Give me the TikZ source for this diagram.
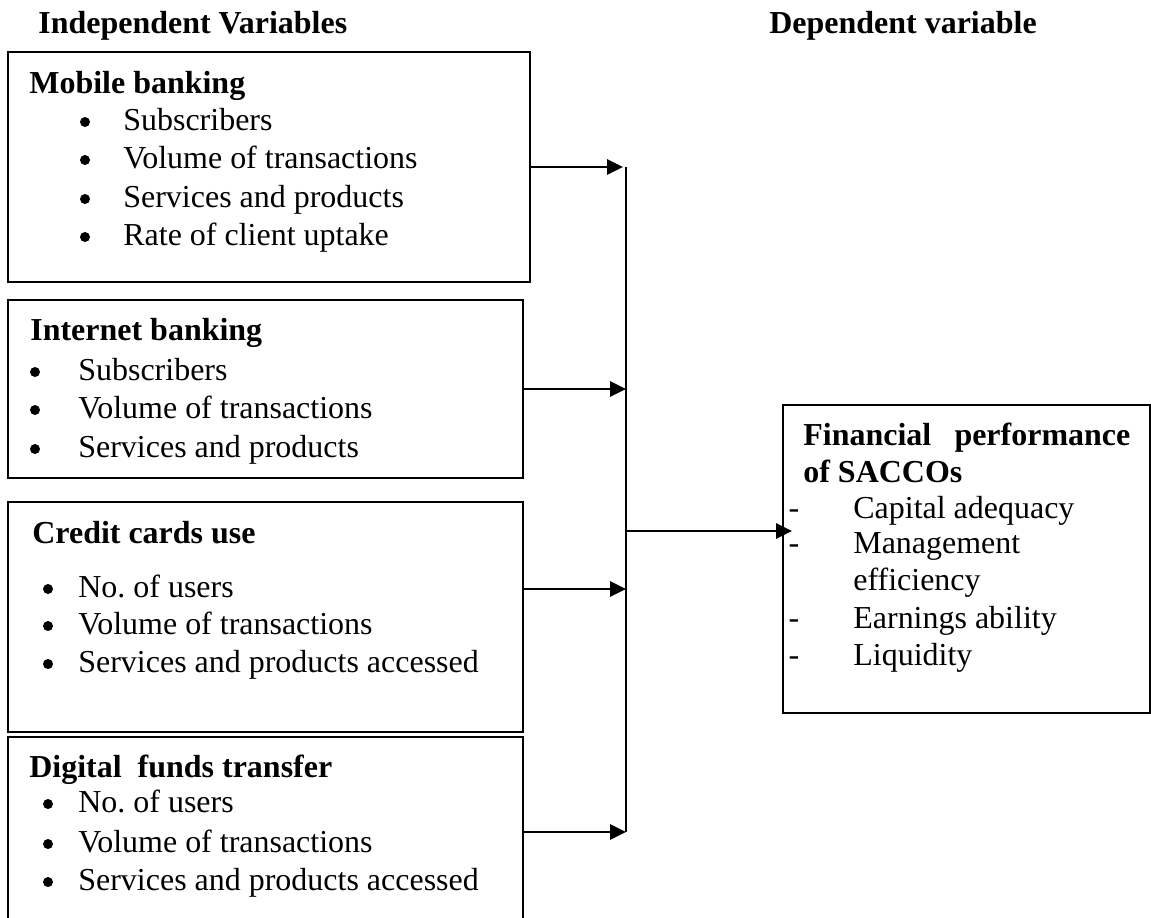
\documentclass[tikz,border=0pt]{standalone}
\usepackage{fontspec}
\setmainfont{Liberation Serif}
\usetikzlibrary{arrows.meta}

\newcommand{\figfont}{\fontsize{18.2}{22}\selectfont}

\begin{document}
\begin{tikzpicture}[
    x=0.02cm, y=-0.02cm,
    box/.style={draw, line width=0.04cm, anchor=north west, inner sep=0pt, outer sep=0pt},
    heading/.style={anchor=base west, inner sep=0pt, font=\figfont\bfseries},
    item/.style={anchor=base west, inner sep=0pt, font=\figfont},
    dot/.style={circle, fill, inner sep=0pt, minimum size=0.2cm},
    hyphen/.style={anchor=base, inner sep=0pt, font=\figfont},
    link/.style={-{Triangle[length=0.32cm, width=0.3cm]}, line width=0.055cm},
    bus/.style={line width=0.04cm}
]
    \useasboundingbox (0,0) rectangle (1151,917);
    \clip (0,0) rectangle (1151,917);

    % column headings
    \node[heading] (indep) at (38,33) {Independent Variables};
    \node[heading] (dep) at (769,33) {Dependent variable};

    % independent variable boxes
    \node[box, minimum width=10.44cm, minimum height=4.6cm] (mobile) at (8,52) {};
    \node[box, minimum width=10.3cm, minimum height=3.56cm] (internet) at (8,300) {};
    \node[box, minimum width=10.3cm, minimum height=4.6cm] (credit) at (8,502) {};
    \node[box, minimum width=10.3cm, minimum height=4.2cm] (digital) at (8,737) {};

    \node[heading] (mobiletitle) at (29,93) {Mobile banking};
    \foreach \y/\txt [count=\i] in {130/Subscribers, 168/Volume of transactions,
        207/Services and products, 245/Rate of client uptake} {
        \node[dot] (mobiledot\i) at (85,\y-8) {};
        \node[item] (mobileitem\i) at (123,\y) {\txt};
    }

    \node[heading] (internettitle) at (30,340) {Internet banking};
    \foreach \y/\txt [count=\i] in {380/Subscribers, 418/Volume of transactions,
        457/Services and products} {
        \node[dot] (internetdot\i) at (35,\y-8) {};
        \node[item] (internetitem\i) at (78,\y) {\txt};
    }

    \node[heading] (credittitle) at (32,543) {Credit cards use};
    \foreach \y/\txt [count=\i] in {597/No.\ of users, 634/Volume of transactions,
        672/Services and products accessed} {
        \node[dot] (creditdot\i) at (48,\y-8) {};
        \node[item] (credititem\i) at (78,\y) {\txt};
    }

    \node[heading] (digitaltitle) at (29,777) {Digital\ \ funds transfer};
    \foreach \y/\txt [count=\i] in {812/No.\ of users, 852/Volume of transactions,
        890/Services and products accessed} {
        \node[dot] (digitaldot\i) at (48,\y-8) {};
        \node[item] (digitalitem\i) at (78,\y) {\txt};
    }

    % dependent variable box
    \node[box, minimum width=7.34cm, minimum height=6.16cm] (finperf) at (783,405) {};
    \node[heading] (fintitle) at (803,445) {\makebox[6.54cm][s]{Financial performance}};
    \node[heading] (fintitle2) at (803,482) {of SACCOs};
    \foreach \y/\txt [count=\i] in {518/Capital adequacy, 553/Management,
        628/Earnings ability, 665/Liquidity} {
        \node[hyphen] (finhyphen\i) at (794,\y) {-};
        \node[item] (finitem\i) at (853,\y) {\txt};
    }
    \node[item] (finitem5) at (853,590) {efficiency};

    % connectors
    \coordinate (bustop) at (626,167);
    \coordinate (busbot) at (626,832);
    \coordinate (buscredit) at (626,589);
    \coordinate (busout) at (626,531);

    \draw[bus] (bustop) -- (busbot);
    \draw[link] (mobile.east) -- ([xshift=-0.06cm]mobile.east -| bustop);
    \draw[link] (internet.east) -- (internet.east -| bustop);
    \draw[link] (buscredit -| credit.east) -- (buscredit);
    \draw[link] (busbot -| digital.east) -- (busbot);
    \draw[link] (busout) -- ([xshift=0.18cm]busout -| finperf.west);
\end{tikzpicture}
\end{document}
